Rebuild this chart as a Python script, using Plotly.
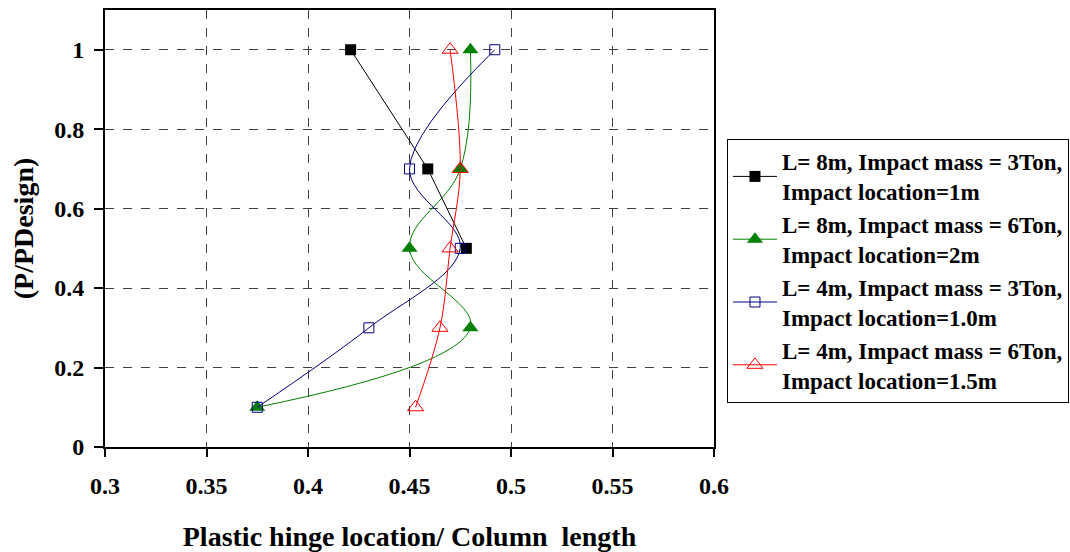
import plotly.graph_objects as go

y_vals = [1.0, 0.7, 0.5, 0.3, 0.1]
black_y = [1.0, 0.7, 0.5]
black_x = [0.421, 0.459, 0.478]
green_x = [0.480, 0.475, 0.450, 0.480, 0.375]
blue_x = [0.492, 0.450, 0.475, 0.430, 0.375]
red_x = [0.470, 0.475, 0.470, 0.465, 0.453]

names = [
    "L= 8m, Impact mass = 3Ton,<br>Impact location=1m",
    "L= 8m, Impact mass = 6Ton,<br>Impact location=2m",
    "L= 4m, Impact mass = 3Ton,<br>Impact location=1.0m",
    "L= 4m, Impact mass = 6Ton,<br>Impact location=1.5m",
]
x_ticks = [0.3, 0.35, 0.4, 0.45, 0.5, 0.55, 0.6]
y_ticks = [0, 0.2, 0.4, 0.6, 0.8, 1]

fig = go.Figure()
fig.add_trace(go.Scatter(x=black_x, y=black_y, name=names[0], mode="lines+markers",
                         line=dict(color="black", width=1),
                         marker=dict(symbol="square", size=11, color="black")))
fig.add_trace(go.Scatter(x=green_x, y=y_vals, name=names[1], mode="lines+markers",
                         line=dict(color="green", width=1, shape="spline", smoothing=1.1),
                         marker=dict(symbol="triangle-up", size=14, color="green")))
fig.add_trace(go.Scatter(x=blue_x, y=y_vals, name=names[2], mode="lines+markers",
                         line=dict(color="#000080", width=1, shape="spline", smoothing=1),
                         marker=dict(symbol="square-open", size=10, color="#000080", line=dict(width=1))))
fig.add_trace(go.Scatter(x=red_x, y=y_vals, name=names[3], mode="lines+markers",
                         line=dict(color="red", width=1, shape="spline", smoothing=1),
                         marker=dict(symbol="triangle-up-open", size=14, color="red", line=dict(width=1))))

fig.update_layout(
    width=1070, height=552,
    margin=dict(l=105, r=356, t=10, b=105, autoexpand=False),
    paper_bgcolor="white", plot_bgcolor="white",
    font=dict(family="Liberation Serif", size=24, color="black", weight="bold"),
    legend=dict(x=1.0213, y=0.7048, xanchor="left", yanchor="top",
                bordercolor="black", borderwidth=1, bgcolor="white",
                font=dict(size=23, family="Liberation Serif", weight="bold"),
                itemwidth=44),
    xaxis=dict(range=[0.3, 0.6], tickvals=x_ticks, ticktext=[str(v) for v in x_ticks],
               showgrid=True, gridcolor="#404040", griddash="dash", gridwidth=1,
               showline=True, linecolor="black", linewidth=2, mirror=True,
               ticks="outside", ticklen=8, tickwidth=2, tickcolor="black",
               ticklabelstandoff=8, zeroline=False, automargin=False,
               title=dict(text="Plastic hinge location/ Column  length", standoff=35,
                          font=dict(size=28))),
    yaxis=dict(range=[0, 1.1], tickvals=y_ticks, ticktext=[str(v) for v in y_ticks],
               showgrid=True, gridcolor="#404040", griddash="dash", gridwidth=1,
               showline=True, linecolor="black", linewidth=2, mirror=True,
               ticks="outside", ticklen=9, tickwidth=2, tickcolor="black",
               ticklabelstandoff=5, zeroline=False, automargin=False,
               title=dict(text="(P/PDesign)", standoff=12, font=dict(size=28))),
)
fig.write_html("out.html", config={"displayModeBar": False},
               post_script="document.body.style.margin='0';")
